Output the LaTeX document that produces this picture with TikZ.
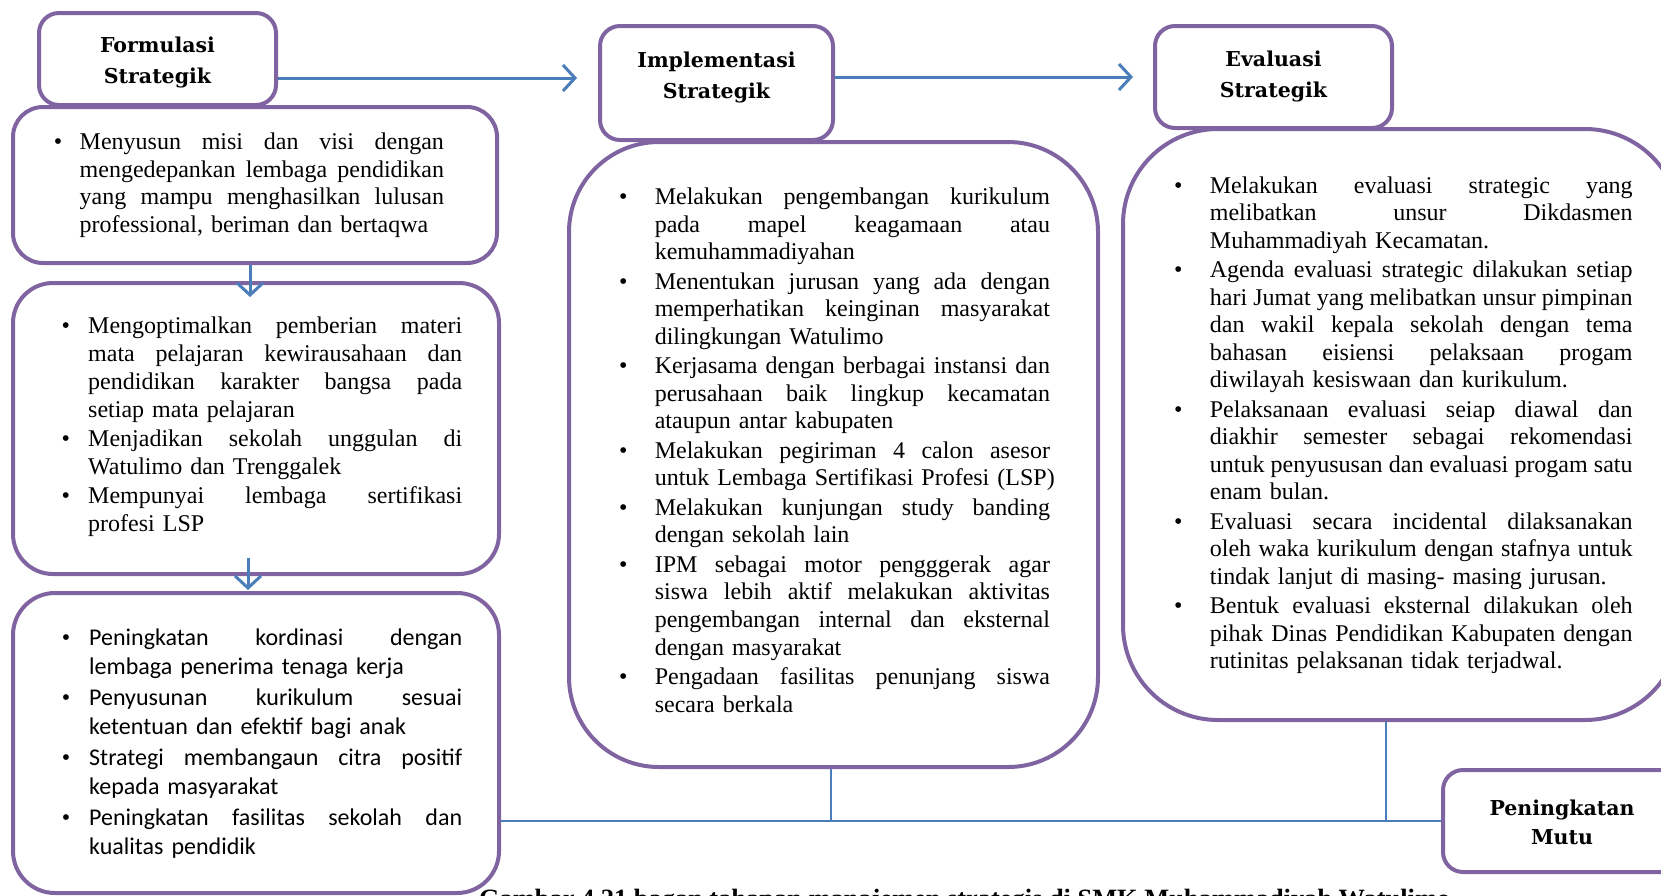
\documentclass[tikz,border=0pt]{standalone}
\usepackage{fontspec}
\setmainfont{Liberation Serif}
\newfontfamily\calfont{Carlito}
\newfontfamily\hdfont{DejaVu Serif}
\usetikzlibrary{arrows.meta}
\definecolor{pur}{HTML}{8064A2}
\definecolor{blu}{HTML}{4A7EBB}
\newlength\bcen \newlength\bind \newlength\bgap \newlength\tw
\newcommand\bitem[1]{\par\lineskip=0pt\noindent\makebox[\bind][l]{\makebox[2\bcen][c]{\strut{\rmfamily\textbullet}}}\parbox[t]{\tw}{#1}\par\vskip\bgap}
\newcommand\jl[1]{\leavevmode\hbox to \tw{\strut\spaceskip=0.25em plus 1fil minus 0.08em\relax\xspaceskip=\spaceskip #1}\\}
\newcommand\lastl[1]{\leavevmode\hbox{\strut #1}}
\tikzset{
 box/.style={draw=pur, line width=4pt, fill=white, rounded corners=#1, inner sep=0pt},
 hd/.style={font=\hdfont\bfseries\fontsize{20.5}{31.5}\selectfont, align=center, inner sep=0pt},
 txt/.style={anchor=north west, inner sep=0pt, font=\fontsize{24}{27.6}\selectfont},
 flow/.style={draw=blu, line width=3pt, -{Straight Barb[length=12pt,width=26pt]}},
 link/.style={draw=blu, line width=2pt},
 captext/.style={anchor=base west, inner sep=0pt, font=\bfseries\fontsize{26.4}{30}\selectfont}
}
\begin{document}
\begin{tikzpicture}[x=1pt,y=-1pt]
\useasboundingbox (0,0) rectangle (1661,895);
\clip (0,0) rectangle (1661,895);
% content boxes
\node[box=30pt, minimum width=484pt, minimum height=156pt] (b1) at (255,185) {};
\node[box=40pt, minimum width=486pt, minimum height=291pt] (b2) at (256,428.5) {};
\node[box=42pt, minimum width=486pt, minimum height=300pt] (b3) at (256,743) {};
\node[box=90pt, minimum width=529pt, minimum height=625pt] (cen) at (833.5,454.5) {};
\node[box=95pt, minimum width=557pt, minimum height=591pt] (evc) at (1401.5,424.5) {};
% header boxes
\node[box=20pt, minimum width=237pt, minimum height=92pt] (form) at (157.5,59) {};
\node[box=20pt, minimum width=233pt, minimum height=114pt] (impl) at (716.5,83) {};
\node[box=20pt, minimum width=237pt, minimum height=102pt] (eval) at (1273.5,77) {};
\node[box=20pt, minimum width=238pt, minimum height=102pt] (pen) at (1562,821) {};
% header texts
\node[hd] (formT) at (157.5,62.5) {Formulasi\\Strategik};
\node[hd] (implT) at (716.5,77.3) {Implementasi\\Strategik};
\node[hd] (evalT) at (1273.5,76.3) {Evaluasi\\Strategik};
\node[hd, font=\hdfont\bfseries\fontsize{20.5}{29}\selectfont] (penT) at (1562,822.5) {Peningkatan\\Mutu};
% connectors
\draw[flow, shorten >=21pt] ([yshift=-19pt]form.east) -- ([yshift=-19pt]form.east -| impl.west);
\draw[flow, shorten >=20pt] ([yshift=6pt]impl.east) -- ([yshift=6pt]impl.east -| eval.west);
\draw[flow, shorten >=-16pt] ([xshift=-5pt]b1.south) -- ([xshift=-5pt]b1.south |- b2.north);
\draw[flow, shorten <=-18pt, shorten >=1pt] ([xshift=-8pt]b2.south) -- ([xshift=-8pt]b2.south |- b3.north);
\draw[link] (pen.west -| b3.east) -- (pen.west);
\draw[link] ([xshift=-2.5pt]cen.south) -- ([xshift=-2.5pt]cen.south |- pen.west);
\draw[link] ([xshift=-15.5pt]evc.south) -- ([xshift=-15.5pt]evc.south |- pen.west);
% texts
\node[txt, text width=403.8pt] (t1) at (40,121.7) {\setlength\bcen{18pt}\setlength\bind{39.5pt}\setlength\bgap{1pt}\setlength\tw{364.3pt}%
\bitem{\jl{Menyusun misi dan visi dengan}\jl{mengedepankan lembaga pendidikan}\jl{yang mampu menghasilkan lulusan}\lastl{professional, beriman dan bertaqwa}}};
\node[txt, text width=422pt, font=\fontsize{24}{28}\selectfont] (t2) at (40,304.9) {\setlength\bcen{25.7pt}\setlength\bind{48pt}\setlength\bgap{1.3pt}\setlength\tw{374pt}%
\bitem{\jl{Mengoptimalkan pemberian materi}\jl{mata pelajaran kewirausahaan dan}\jl{pendidikan karakter bangsa pada}\lastl{setiap mata pelajaran}}%
\bitem{\jl{Menjadikan sekolah unggulan di}\lastl{Watulimo dan Trenggalek}}%
\bitem{\jl{Mempunyai lembaga sertifikasi}\lastl{profesi LSP}}};
\node[txt, text width=422pt, font=\calfont\fontsize{24}{29.3}\selectfont] (t3) at (40,616) {\setlength\bcen{26pt}\setlength\bind{49pt}\setlength\bgap{1.3pt}\setlength\tw{373pt}%
\bitem{\jl{Peningkatan kordinasi dengan}\lastl{lembaga penerima tenaga kerja}}%
\bitem{\jl{Penyusunan kurikulum sesuai}\lastl{ketentuan dan efektif bagi anak}}%
\bitem{\jl{Strategi membangaun citra positif}\lastl{kepada masyarakat}}%
\bitem{\jl{Peningkatan fasilitas sekolah dan}\lastl{kualitas pendidik}}};
\node[txt, text width=449.8pt] (tc) at (600,176.7) {\setlength\bcen{23pt}\setlength\bind{54.6pt}\setlength\bgap{1.8pt}\setlength\tw{395.2pt}%
\bitem{\jl{Melakukan pengembangan kurikulum}\jl{pada mapel keagamaan atau}\lastl{kemuhammadiyahan}}%
\bitem{\jl{Menentukan jurusan yang ada dengan}\jl{memperhatikan keinginan masyarakat}\lastl{dilingkungan Watulimo}}%
\bitem{\jl{Kerjasama dengan berbagai instansi dan}\jl{perusahaan baik lingkup kecamatan}\lastl{ataupun antar kabupaten}}%
\bitem{\jl{Melakukan pegiriman 4 calon asesor}\lastl{untuk Lembaga Sertifikasi Profesi (LSP)}}%
\bitem{\jl{Melakukan kunjungan study banding}\lastl{dengan sekolah lain}}%
\bitem{\jl{IPM sebagai motor pengggerak agar}\jl{siswa lebih aktif melakukan aktivitas}\jl{pengembangan internal dan eksternal}\lastl{dengan masyarakat}}%
\bitem{\jl{Pengadaan fasilitas penunjang siswa}\lastl{secara berkala}}};
\node[txt, text width=482.4pt] (te) at (1150,165.2) {\setlength\bcen{28pt}\setlength\bind{59.7pt}\setlength\bgap{1.6pt}\setlength\tw{422.7pt}%
\bitem{\jl{Melakukan evaluasi strategic yang}\jl{melibatkan unsur Dikdasmen}\lastl{Muhammadiyah Kecamatan.}}%
\bitem{\jl{Agenda evaluasi strategic dilakukan setiap}\jl{hari Jumat yang melibatkan unsur pimpinan}\jl{dan wakil kepala sekolah dengan tema}\jl{bahasan eisiensi pelaksaan progam}\lastl{diwilayah kesiswaan dan kurikulum.}}%
\bitem{\jl{Pelaksanaan evaluasi seiap diawal dan}\jl{diakhir semester sebagai rekomendasi}\jl{untuk penyususan dan evaluasi progam satu}\lastl{enam bulan.}}%
\bitem{\jl{Evaluasi secara incidental dilaksanakan}\jl{oleh waka kurikulum dengan stafnya untuk}\lastl{tindak lanjut di masing- masing jurusan.}}%
\bitem{\jl{Bentuk evaluasi eksternal dilakukan oleh}\jl{pihak Dinas Pendidikan Kabupaten dengan}\lastl{rutinitas pelaksanan tidak terjadwal.}}};
% caption (cut off by the lower edge)
\node[captext] (capT) at (479,907.5) {Gambar 4.21 bagan tahapan manajemen strategis di SMK Muhammadiyah Watulimo};
\end{tikzpicture}
\end{document}
